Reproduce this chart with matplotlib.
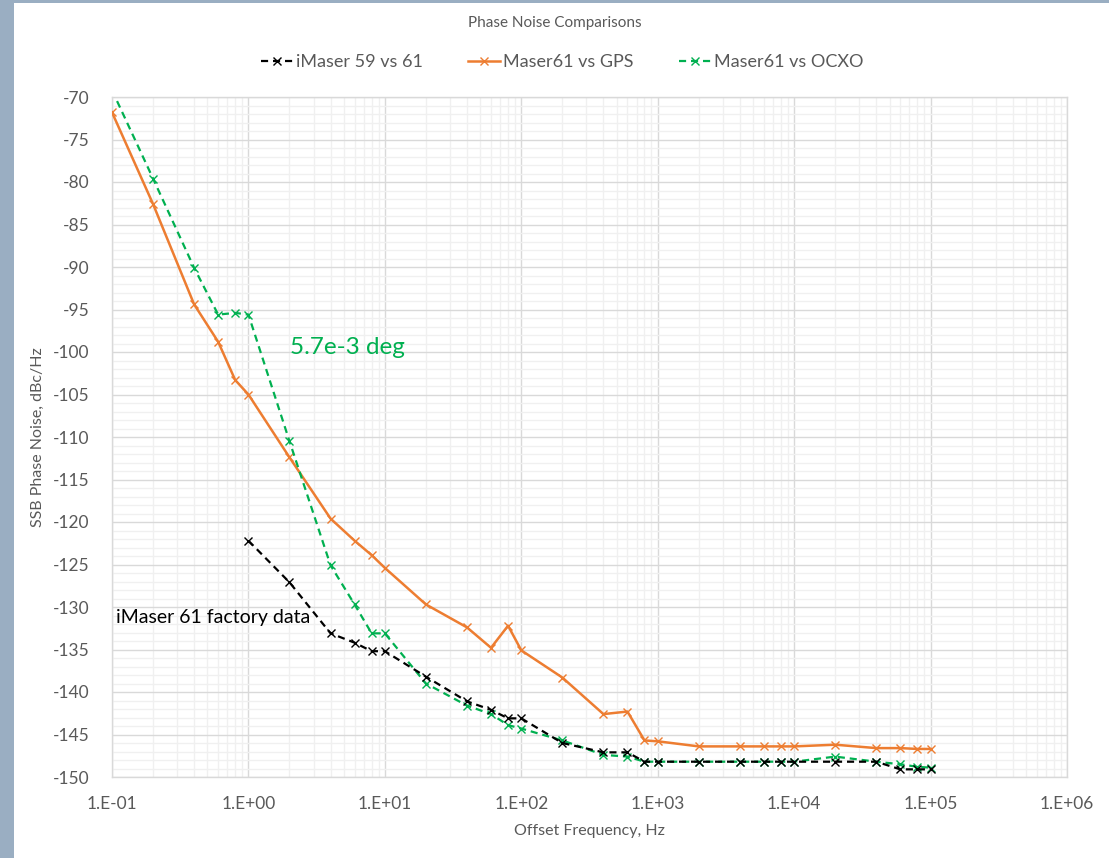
import numpy as np
import matplotlib
matplotlib.use('Agg')
import matplotlib.pyplot as plt
from matplotlib.ticker import FixedLocator, FuncFormatter, MultipleLocator
from matplotlib.patches import Rectangle

plt.rcParams['font.family'] = ['Lato', 'DejaVu Sans']

# ---- data ----
freq_imaser = [1, 2, 4, 6, 8, 10, 20, 40, 60, 80, 100, 200, 400, 600, 800,
               1000, 2000, 4000, 6000, 8000, 10000, 20000, 40000, 60000, 80000, 100000]
pn_imaser = [-122.2, -127.1, -133.1, -134.2, -135.2, -135.2, -138.2, -141.1, -142.1, -143.1,
             -143.1, -146.0, -147.1, -147.1, -148.2, -148.2, -148.2, -148.2, -148.2, -148.2,
             -148.2, -148.2, -148.2, -149.1, -149.1, -149.1]

freq_gps = [0.1, 0.2, 0.4, 0.6, 0.8, 1, 2, 4, 6, 8, 10, 20, 40, 60, 80, 100, 200, 400, 600,
            800, 1000, 2000, 4000, 6000, 8000, 10000, 20000, 40000, 60000, 80000, 100000]
pn_gps = [-71.8, -82.6, -94.4, -98.8, -103.3, -105.0, -112.4, -119.6, -122.2, -123.9, -125.4,
          -129.7, -132.4, -134.8, -132.2, -135.1, -138.3, -142.6, -142.3, -145.7, -145.8,
          -146.4, -146.4, -146.4, -146.4, -146.4, -146.2, -146.6, -146.6, -146.7, -146.7]

freq_ocxo = [0.1, 0.2, 0.4, 0.6, 0.8, 1, 2, 4, 6, 8, 10, 20, 40, 60, 80, 100, 200, 400, 600,
             800, 1000, 2000, 4000, 6000, 8000, 10000, 20000, 40000, 60000, 80000, 100000]
pn_ocxo = [-69.2, -79.6, -90.1, -95.6, -95.4, -95.6, -110.5, -125.1, -129.7, -133.1, -133.1,
           -139.0, -141.6, -142.6, -143.9, -144.3, -145.7, -147.4, -147.6, -148.2, -148.2,
           -148.2, -148.2, -148.2, -148.2, -148.2, -147.6, -148.2, -148.5, -148.8, -148.9]

W, H = 1109, 858
fig = plt.figure(figsize=(W / 100, H / 100), dpi=100)
fig.patch.set_facecolor('#9aaec2')
bg = Rectangle((14 / W, 0), 1 - 14 / W, 1 - 3 / H, transform=fig.transFigure,
               facecolor='white', edgecolor='none', zorder=-10)
fig.add_artist(bg)

ax = fig.add_axes([112 / W, (H - 777) / H, (1067 - 112) / W, (777 - 97) / H])
ax.set_zorder(1)
ax.set_facecolor('white')
ax.set_xscale('log')
ax.set_xlim(0.1, 1e6)
ax.set_ylim(-150, -70)

dash = (0, (3.2, 2.2))
ax.plot(freq_imaser, pn_imaser, color='black', linestyle=dash, linewidth=1.6,
        marker='x', markersize=5.5, markeredgewidth=1.0, label='iMaser 59 vs 61', zorder=4)
ax.plot(freq_gps, pn_gps, color='#ED7D31', linestyle='-', linewidth=1.8,
        marker='x', markersize=5.5, markeredgewidth=1.0, label='Maser61 vs GPS', zorder=3)
ax.plot(freq_ocxo, pn_ocxo, color='#00B050', linestyle=dash, linewidth=1.6,
        marker='x', markersize=5.5, markeredgewidth=1.0, label='Maser61 vs OCXO', zorder=3)

# ticks and grid
ax.xaxis.set_major_locator(FixedLocator([10.0 ** k for k in range(-1, 7)]))
minors = [m * 10.0 ** k for k in range(-1, 6) for m in range(2, 10)]
ax.xaxis.set_minor_locator(FixedLocator(minors))
ax.xaxis.set_major_formatter(FuncFormatter(lambda v, p: '1.E%+03d' % int(round(np.log10(v)))))
ax.xaxis.set_minor_formatter(FuncFormatter(lambda v, p: ''))
ax.yaxis.set_major_locator(MultipleLocator(5))
ax.yaxis.set_minor_locator(MultipleLocator(1))
ax.yaxis.set_major_formatter(FuncFormatter(lambda v, p: '%d' % v))

ax.grid(which='major', color='#d9d9d9', linewidth=1.0, zorder=0)
ax.grid(which='minor', color='#f0f0f0', linewidth=1.0, zorder=0)
ax.set_axisbelow(True)
ax.tick_params(which='both', length=0)
ax.tick_params(axis='x', pad=14, labelsize=12.5, colors='#595959')
ax.tick_params(axis='y', pad=16, labelsize=12.5, colors='#595959')
for s in ax.spines.values():
    s.set_color('#d9d9d9')
    s.set_linewidth(1.0)

ax.set_xlabel('Offset Frequency, Hz', fontsize=11.5, color='#595959', labelpad=8)
ax.set_ylabel('SSB Phase Noise, dBc/Hz', fontsize=11.5, color='#595959', labelpad=6)

fig.text(555 / W, 1 - 23 / H, 'Phase Noise Comparisons', ha='center', va='center',
         fontsize=11, color='#595959')

leg = fig.legend(loc='center', bbox_to_anchor=(562 / W, 1 - 62 / H), ncol=3, frameon=False,
                 fontsize=13, handlelength=1.8, handletextpad=0.15, columnspacing=2.5)
for t in leg.get_texts():
    t.set_color('#595959')

fig.text(290 / W, 1 - 348 / H, '5.7e-3 deg', fontsize=17.5, color='#00B050',
         va='center', ha='left', zorder=5)
fig.text(116 / W, 1 - 617 / H, 'iMaser 61 factory data', fontsize=14, color='black',
         va='center', ha='left', zorder=5)

fig.savefig('out.png', dpi=100, facecolor=fig.get_facecolor())
